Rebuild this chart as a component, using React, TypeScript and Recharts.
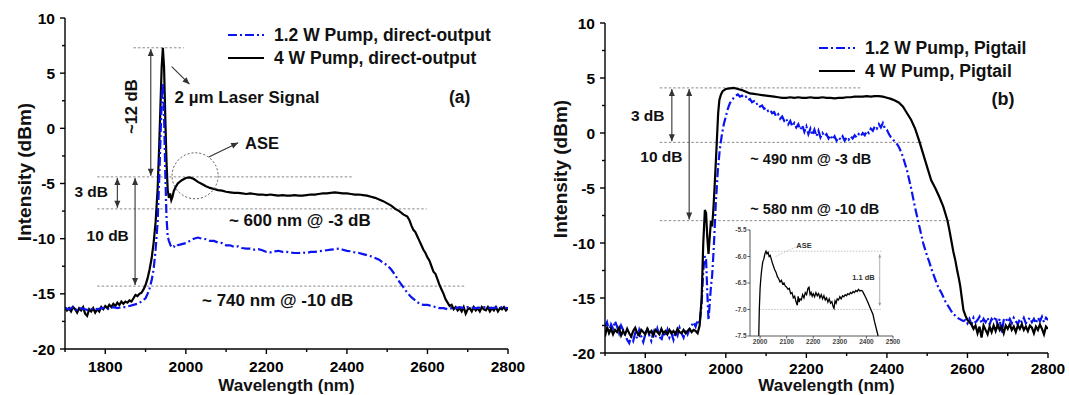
import React from 'react';
import { LineChart, Line, XAxis, YAxis, ReferenceLine, ReferenceDot, Legend } from 'recharts';

const FONT = "'Liberation Sans', Arial, Helvetica, sans-serif";
const BLUE = '#0a14f0';
const DASH = '9 3 2 3';

type Pt = [number, number];

// ---------- Panel (a): direct output ----------
const aBlack4W: Pt[] = [
  [1700, -16.2], [1705, -16.5], [1710, -16.3], [1715, -16.6], [1720, -16.2], [1725, -16.4], [1730, -16.7], [1735, -16.3],
  [1740, -16.5], [1745, -16.2], [1750, -16.8], [1755, -17.0], [1760, -16.4], [1765, -16.6], [1770, -16.3], [1775, -16.7],
  [1780, -16.4], [1785, -16.6], [1790, -16.2], [1795, -16.4], [1800, -16.1], [1805, -16.3], [1810, -16.0], [1815, -16.2],
  [1820, -15.9], [1825, -16.1], [1830, -15.8], [1835, -16.0], [1840, -15.7], [1845, -15.9], [1850, -15.7], [1855, -15.8],
  [1860, -15.6], [1865, -15.7], [1870, -15.4], [1875, -15.1], [1880, -15.2], [1885, -15.0], [1890, -14.9], [1895, -14.6],
  [1900, -14.2], [1905, -13.6], [1910, -12.8], [1915, -11.8], [1920, -10.4], [1925, -8.5], [1930, -5.5], [1934, -1.5],
  [1937, 2.0], [1940, 5.5], [1943, 7.3], [1946, 5.5], [1949, 1.0], [1952, -3.0], [1955, -5.6], [1958, -6.3], [1961, -5.9],
  [1964, -6.5], [1967, -6.2], [1970, -5.7], [1975, -5.3], [1980, -5.0], [1990, -4.7], [2000, -4.5], [2010, -4.45],
  [2020, -4.6], [2030, -4.85], [2040, -5.05], [2050, -5.25], [2060, -5.4], [2070, -5.5], [2080, -5.6], [2090, -5.65],
  [2100, -5.75], [2110, -5.8], [2120, -5.85], [2130, -5.85], [2140, -5.9], [2150, -5.95], [2160, -5.9], [2170, -5.95],
  [2180, -6.0], [2190, -6.0], [2200, -6.05], [2210, -6.0], [2220, -6.05], [2230, -6.1], [2240, -6.05], [2250, -6.1],
  [2260, -6.1], [2270, -6.05], [2280, -6.1], [2290, -6.1], [2300, -6.05], [2310, -6.0], [2320, -6.0], [2330, -5.95],
  [2340, -5.9], [2350, -5.9], [2360, -5.85], [2370, -5.8], [2380, -5.85], [2390, -5.9], [2400, -5.9], [2410, -5.95],
  [2420, -6.0], [2430, -6.0], [2440, -6.05], [2450, -6.1], [2460, -6.2], [2470, -6.3], [2480, -6.45], [2490, -6.6],
  [2500, -6.8], [2510, -7.0], [2520, -7.3], [2530, -7.5], [2540, -7.8], [2550, -8.0], [2555, -8.3], [2560, -8.8],
  [2565, -9.2], [2570, -9.4], [2575, -9.8], [2580, -10.2], [2585, -10.6], [2590, -11.0], [2595, -11.3], [2600, -11.7],
  [2605, -12.0], [2610, -12.5], [2615, -13.0], [2620, -13.2], [2625, -13.7], [2630, -14.2], [2635, -14.6], [2640, -15.0],
  [2645, -15.5], [2650, -15.8], [2655, -16.1], [2660, -16.0], [2665, -16.4], [2670, -16.2], [2675, -16.5], [2680, -16.3],
  [2685, -16.6], [2690, -16.2], [2695, -16.8], [2700, -16.4], [2705, -16.3], [2710, -16.6], [2715, -16.2], [2720, -16.5],
  [2725, -16.3], [2730, -16.6], [2735, -16.2], [2740, -16.4], [2745, -16.5], [2750, -16.2], [2755, -16.6], [2760, -16.3],
  [2765, -16.5], [2770, -16.2], [2775, -16.6], [2780, -16.3], [2785, -16.4], [2790, -16.2], [2795, -16.5], [2800, -16.3],
];

const aBlue12W: Pt[] = [
  [1700, -16.3], [1710, -16.4], [1720, -16.2], [1730, -16.5], [1740, -16.3], [1750, -16.4], [1760, -16.5], [1770, -16.3],
  [1780, -16.4], [1790, -16.3], [1800, -16.3], [1810, -16.4], [1820, -16.2], [1830, -16.3], [1840, -16.2], [1850, -16.2],
  [1860, -16.1], [1870, -16.0], [1880, -15.9], [1890, -15.7], [1900, -15.4], [1905, -15.0], [1910, -14.5], [1915, -13.8],
  [1920, -12.8], [1925, -11.0], [1930, -8.5], [1934, -4.5], [1937, -1.0], [1940, 2.5], [1943, 4.1], [1946, 1.0],
  [1949, -4.0], [1952, -8.0], [1955, -9.8], [1958, -10.2], [1962, -10.6], [1966, -10.8], [1970, -10.7], [1975, -10.8],
  [1980, -10.6], [1990, -10.5], [2000, -10.4], [2010, -10.2], [2020, -10.0], [2030, -9.9], [2040, -10.0], [2050, -10.05],
  [2060, -10.2], [2070, -10.2], [2080, -10.35], [2090, -10.4], [2100, -10.6], [2110, -10.6], [2120, -10.75], [2130, -10.7],
  [2140, -10.85], [2150, -10.9], [2160, -10.9], [2170, -11.0], [2180, -10.95], [2190, -11.05], [2200, -11.2], [2210, -11.25],
  [2220, -11.15], [2230, -11.1], [2240, -11.2], [2250, -11.2], [2260, -11.25], [2270, -11.3], [2280, -11.3], [2290, -11.25],
  [2300, -11.3], [2310, -11.2], [2320, -11.2], [2330, -11.15], [2340, -11.1], [2350, -11.05], [2360, -11.0], [2370, -10.95],
  [2380, -10.9], [2390, -11.0], [2400, -11.1], [2410, -11.15], [2420, -11.25], [2430, -11.3], [2440, -11.4], [2450, -11.5],
  [2460, -11.6], [2470, -11.75], [2480, -11.9], [2490, -12.2], [2500, -12.4], [2510, -12.8], [2520, -13.3], [2530, -13.9],
  [2540, -14.4], [2550, -14.9], [2560, -15.3], [2570, -15.6], [2580, -15.9], [2590, -16.0], [2600, -16.0], [2610, -16.1],
  [2620, -16.2], [2630, -16.3], [2640, -16.3], [2650, -16.4], [2660, -16.3], [2670, -16.3], [2680, -16.2], [2690, -16.3],
  [2700, -16.2], [2720, -16.3], [2740, -16.2], [2760, -16.3], [2780, -16.2], [2800, -16.3],
];

// ---------- Panel (b): pigtail ----------
const bBlack4W: Pt[] = [
  [1700, -18.5], [1705, -17.6], [1710, -18.2], [1715, -17.8], [1720, -18.3], [1725, -17.9], [1730, -18.1], [1735, -17.7],
  [1740, -18.4], [1745, -18.0], [1750, -18.3], [1755, -17.8], [1760, -18.2], [1765, -18.5], [1770, -18.0], [1775, -17.7],
  [1780, -18.2], [1785, -18.4], [1790, -17.9], [1795, -18.1], [1800, -18.3], [1805, -17.8], [1810, -18.2], [1815, -18.0],
  [1820, -18.4], [1825, -17.9], [1830, -18.1], [1835, -18.3], [1840, -17.8], [1845, -18.2], [1850, -18.0], [1855, -18.3],
  [1860, -17.9], [1865, -18.2], [1870, -18.0], [1875, -18.3], [1880, -17.8], [1885, -18.1], [1890, -18.2], [1895, -17.9],
  [1900, -18.2], [1905, -18.0], [1910, -17.8], [1915, -18.1], [1920, -17.9], [1925, -18.0], [1930, -18.2], [1935, -17.5],
  [1940, -15.0], [1944, -10.0], [1948, -7.0], [1951, -7.3], [1954, -9.5], [1957, -11.0], [1960, -9.5], [1963, -8.0],
  [1966, -8.5], [1969, -7.0], [1972, -5.0], [1975, -2.8], [1978, -0.5], [1981, 1.8], [1984, 3.0], [1988, 3.5],
  [1992, 3.8], [1996, 3.9], [2000, 4.0], [2010, 4.05], [2020, 4.1], [2030, 4.0], [2040, 3.9], [2050, 3.75], [2060, 3.6],
  [2070, 3.55], [2080, 3.5], [2090, 3.45], [2100, 3.4], [2110, 3.35], [2120, 3.3], [2130, 3.25], [2140, 3.2], [2150, 3.2],
  [2160, 3.25], [2170, 3.2], [2180, 3.25], [2190, 3.2], [2200, 3.2], [2210, 3.25], [2220, 3.2], [2230, 3.2], [2240, 3.25],
  [2250, 3.2], [2260, 3.2], [2270, 3.15], [2280, 3.2], [2290, 3.2], [2300, 3.25], [2310, 3.25], [2320, 3.3], [2330, 3.3],
  [2340, 3.3], [2350, 3.35], [2360, 3.3], [2370, 3.35], [2380, 3.35], [2390, 3.3], [2400, 3.2], [2410, 3.1], [2420, 2.95],
  [2430, 2.75], [2440, 2.4], [2450, 1.8], [2460, 1.2], [2470, 0.4], [2480, -0.7], [2490, -1.9], [2500, -3.1], [2510, -4.3],
  [2520, -5.0], [2530, -5.8], [2540, -6.7], [2550, -7.9], [2555, -8.8], [2560, -9.8], [2565, -10.8], [2570, -11.6],
  [2575, -12.6], [2578, -13.1], [2582, -13.9], [2586, -15.0], [2590, -16.1], [2595, -16.6], [2600, -17.0], [2605, -17.2],
  [2610, -17.4], [2615, -17.8], [2620, -17.5], [2625, -18.2], [2630, -17.6], [2635, -18.6], [2640, -17.5], [2645, -17.9],
  [2650, -18.3], [2655, -17.6], [2660, -18.1], [2665, -17.5], [2670, -18.0], [2675, -17.4], [2680, -17.9], [2685, -17.6],
  [2690, -18.2], [2695, -17.5], [2700, -17.8], [2705, -17.4], [2710, -17.9], [2715, -17.6], [2720, -18.1], [2725, -17.5],
  [2730, -17.8], [2735, -17.4], [2740, -17.9], [2745, -17.6], [2750, -18.0], [2755, -17.5], [2760, -17.7], [2765, -18.2],
  [2770, -17.6], [2775, -17.9], [2780, -17.4], [2785, -17.8], [2790, -18.3], [2795, -17.6], [2800, -17.8],
];

const bBlue12W: Pt[] = [
  [1700, -17.6], [1705, -17.2], [1710, -18.0], [1715, -17.4], [1720, -17.8], [1725, -17.1], [1730, -17.6], [1735, -18.2],
  [1740, -17.5], [1745, -17.9], [1750, -18.4], [1755, -18.8], [1760, -19.1], [1765, -18.5], [1770, -18.9], [1775, -18.2],
  [1780, -18.7], [1785, -17.9], [1790, -18.5], [1795, -19.0], [1800, -18.3], [1805, -17.7], [1810, -18.4], [1815, -18.9],
  [1820, -18.1], [1825, -18.6], [1830, -17.8], [1835, -18.4], [1840, -18.9], [1845, -18.0], [1850, -18.5], [1855, -17.9],
  [1860, -18.6], [1865, -18.2], [1870, -18.8], [1875, -18.0], [1880, -18.4], [1885, -17.7], [1890, -18.2], [1895, -18.6],
  [1900, -17.9], [1905, -18.3], [1910, -17.8], [1915, -17.5], [1920, -17.2], [1925, -17.6], [1930, -17.0], [1935, -17.3],
  [1940, -15.5], [1944, -12.5], [1948, -11.2], [1951, -11.5], [1954, -14.5], [1957, -17.0], [1960, -15.5], [1963, -14.0],
  [1966, -13.0], [1970, -10.5], [1975, -6.5], [1980, -3.5], [1985, -1.5], [1990, -0.2], [1995, 0.8], [2000, 1.5],
  [2005, 2.2], [2010, 2.7], [2015, 3.0], [2020, 3.2], [2025, 3.4], [2030, 3.5], [2035, 3.3], [2040, 3.4], [2045, 3.2],
  [2050, 3.3], [2055, 3.0], [2060, 3.1], [2065, 2.8], [2070, 2.9], [2075, 2.6], [2080, 2.7], [2085, 2.4], [2090, 2.5],
  [2095, 2.2], [2100, 2.3], [2105, 2.0], [2110, 2.1], [2115, 1.8], [2120, 1.9], [2125, 1.5], [2130, 1.7], [2135, 1.3],
  [2140, 1.5], [2145, 1.1], [2150, 1.3], [2155, 0.8], [2160, 1.1], [2165, 0.6], [2170, 0.9], [2175, 0.5], [2180, 0.8],
  [2185, 0.3], [2190, 0.7], [2195, 0.1], [2200, 0.6], [2205, -0.1], [2210, 0.4], [2215, -0.2], [2220, 0.3], [2225, -0.3],
  [2230, 0.2], [2235, -0.4], [2240, 0.0], [2245, -0.3], [2250, -0.1], [2255, -0.5], [2260, -0.2], [2265, -0.6],
  [2270, -0.3], [2275, -0.7], [2280, -0.4], [2285, -0.6], [2290, -0.3], [2295, -0.7], [2300, -0.4], [2305, -0.6],
  [2310, -0.3], [2315, -0.5], [2320, -0.2], [2325, -0.4], [2330, -0.1], [2335, -0.3], [2340, 0.0], [2345, -0.2],
  [2350, 0.2], [2355, 0.0], [2360, 0.4], [2365, 0.2], [2370, 0.6], [2375, 0.4], [2380, 0.8], [2385, 0.5], [2390, 0.9],
  [2395, 0.4], [2400, 0.3], [2405, -0.1], [2410, -0.4], [2415, -0.6], [2420, -0.8], [2425, -1.0], [2430, -1.3],
  [2435, -1.7], [2440, -2.2], [2445, -2.8], [2450, -3.4], [2455, -4.2], [2460, -5.0], [2465, -5.9], [2470, -6.8],
  [2475, -7.6], [2480, -8.4], [2485, -9.2], [2490, -10.0], [2495, -10.6], [2500, -11.2], [2505, -11.7], [2510, -12.3],
  [2515, -12.8], [2520, -13.3], [2525, -13.8], [2530, -14.2], [2535, -14.5], [2540, -14.9], [2545, -15.3], [2550, -15.6],
  [2555, -15.9], [2560, -16.2], [2565, -16.5], [2570, -16.6], [2575, -16.8], [2580, -16.9], [2585, -17.0], [2590, -17.1],
  [2595, -17.0], [2600, -17.3], [2605, -16.9], [2610, -17.4], [2615, -16.8], [2620, -17.2], [2625, -17.0], [2630, -16.7],
  [2635, -17.3], [2640, -16.9], [2645, -17.2], [2650, -16.8], [2655, -17.4], [2660, -16.9], [2665, -17.1], [2670, -16.7],
  [2675, -17.5], [2680, -16.9], [2685, -18.2], [2690, -17.0], [2695, -16.8], [2700, -17.2], [2705, -16.9], [2710, -17.3],
  [2715, -16.8], [2720, -17.1], [2725, -17.4], [2730, -16.9], [2735, -17.2], [2740, -16.8], [2745, -17.3], [2750, -17.0],
  [2755, -16.8], [2760, -17.2], [2765, -16.9], [2770, -17.3], [2775, -16.8], [2780, -17.1], [2785, -16.7], [2790, -17.2],
  [2795, -16.8], [2800, -17.0],
];

// ---------- Inset of panel (b) ----------
const insetASE: Pt[] = [
  [1995, -7.5], [1997, -7.0], [2000, -6.6], [2003, -6.4], [2006, -6.25], [2010, -6.1], [2014, -6.05], [2018, -5.95],
  [2022, -5.9], [2026, -5.95], [2030, -5.92], [2034, -6.0], [2038, -5.98], [2042, -6.05], [2046, -6.12], [2050, -6.18],
  [2055, -6.25], [2060, -6.3], [2065, -6.38], [2070, -6.42], [2075, -6.48], [2080, -6.45], [2085, -6.52], [2090, -6.5],
  [2095, -6.56], [2100, -6.58], [2105, -6.62], [2110, -6.6], [2115, -6.7], [2120, -6.68], [2125, -6.78], [2130, -6.75],
  [2135, -6.85], [2140, -6.92], [2143, -6.75], [2147, -6.86], [2150, -6.8], [2155, -6.82], [2160, -6.72], [2165, -6.78],
  [2170, -6.68], [2175, -6.72], [2180, -6.6], [2184, -6.58], [2188, -6.72], [2192, -6.68], [2196, -6.75], [2200, -6.7],
  [2205, -6.76], [2210, -6.68], [2215, -6.74], [2220, -6.7], [2225, -6.78], [2230, -6.72], [2235, -6.8], [2240, -6.74],
  [2245, -6.82], [2250, -6.78], [2255, -6.86], [2260, -6.8], [2265, -6.88], [2270, -6.85], [2275, -6.95], [2278, -6.98],
  [2282, -6.84], [2286, -6.88], [2290, -6.8], [2295, -6.82], [2300, -6.76], [2305, -6.8], [2310, -6.74], [2315, -6.76],
  [2320, -6.72], [2325, -6.74], [2330, -6.7], [2335, -6.72], [2340, -6.68], [2345, -6.7], [2350, -6.66], [2355, -6.68],
  [2360, -6.64], [2365, -6.66], [2370, -6.62], [2375, -6.65], [2380, -6.64], [2385, -6.65], [2390, -6.7], [2395, -6.75],
  [2400, -6.8], [2405, -6.86], [2410, -6.92], [2415, -6.98], [2420, -7.04], [2425, -7.1], [2430, -7.22], [2435, -7.32],
  [2440, -7.42], [2444, -7.5],
];

// ---------- Ticks & labels ----------
const mainXTicks = [1700, 1800, 1900, 2000, 2100, 2200, 2300, 2400, 2500, 2600, 2700, 2800];
const mainXLabelled = [1800, 2000, 2200, 2400, 2600, 2800];
const mainYTicks = [-20, -17.5, -15, -12.5, -10, -7.5, -5, -2.5, 0, 2.5, 5, 7.5, 10];
const mainYLabelled = [-20, -15, -10, -5, 0, 5, 10];
const insetXTicks = [2000, 2100, 2200, 2300, 2400, 2500];
const insetYTicks = [-7.5, -7.0, -6.5, -6.0, -5.5];

const legendA = ['1.2 W Pump, direct-output', '4 W Pump, direct-output'];
const legendB = ['1.2 W Pump, Pigtail', '4 W Pump, Pigtail'];
const xTitle = 'Wavelength (nm)';
const yTitle = 'Intensity (dBm)';

// ---------- Annotations (data units) ----------
type Seg = { x1: number; y1: number; x2: number; y2: number; heads?: 'both' | 'end' | 'none' };
type Note = { x: number; y: number; text: string; size: number; anchor?: 'start' | 'middle' | 'end'; rotate?: boolean };

const aGuides: Seg[] = [
  { x1: 1870, y1: 7.3, x2: 1995, y2: 7.3 },
  { x1: 1780, y1: -4.4, x2: 2415, y2: -4.4 },
  { x1: 1780, y1: -7.3, x2: 2598, y2: -7.3 },
  { x1: 1780, y1: -14.3, x2: 2692, y2: -14.3 },
];
const aArrows: Seg[] = [
  { x1: 1913, y1: 7.2, x2: 1913, y2: -4.3, heads: 'both' },
  { x1: 1830, y1: -4.5, x2: 1830, y2: -7.2, heads: 'both' },
  { x1: 1874, y1: -4.5, x2: 1874, y2: -14.2, heads: 'both' },
  { x1: 1965, y1: 5.6, x2: 2009, y2: 4.0, heads: 'end' },
  { x1: 2057, y1: -2.6, x2: 2130, y2: -1.3, heads: 'end' },
];
const aNotes: Note[] = [
  { x: 1972, y: 2.87, text: '2 µm Laser Signal', size: 17, anchor: 'start' },
  { x: 2147, y: -1.36, text: 'ASE', size: 16.5, anchor: 'start' },
  { x: 2283, y: -8.31, text: '~ 600 nm @ -3 dB', size: 17 },
  { x: 2228, y: -15.57, text: '~ 740 nm @ -10 dB', size: 17 },
  { x: 1765, y: -5.74, text: '3 dB', size: 15.5 },
  { x: 1806, y: -9.67, text: '10 dB', size: 15.5 },
  { x: 1865, y: 1.96, text: '~12 dB', size: 16.5, rotate: true },
  { x: 2680, y: 2.87, text: '(a)', size: 17.5 },
];
const aCircles = [{ x: 2023, y: -4.3 }];

const bGuides: Seg[] = [
  { x1: 1836, y1: 4.1, x2: 2339, y2: 4.1 },
  { x1: 1836, y1: -0.85, x2: 2488, y2: -0.85 },
  { x1: 1836, y1: -7.97, x2: 2560, y2: -7.97 },
];
const bArrows: Seg[] = [
  { x1: 1866, y1: 4.0, x2: 1866, y2: -0.75, heads: 'both' },
  { x1: 1909, y1: 4.0, x2: 1909, y2: -7.87, heads: 'both' },
];
const bNotes: Note[] = [
  { x: 1806, y: 1.6, text: '3 dB', size: 15.5 },
  { x: 1840, y: -2.12, text: '10 dB', size: 15.5 },
  { x: 2211, y: -2.33, text: '~ 490 nm @ -3 dB', size: 14.5 },
  { x: 2221, y: -6.88, text: '~ 580 nm @ -10 dB', size: 14.5 },
  { x: 2688, y: 3.12, text: '(b)', size: 18 },
];

const iGuides: Seg[] = [
  { x1: 2022, y1: -5.9, x2: 2457, y2: -5.9 },
  { x1: 1997, y1: -7.0, x2: 2457, y2: -7.0 },
  { x1: 2058, y1: -6.0, x2: 2134, y2: -5.82 },
];
const iArrows: Seg[] = [{ x1: 2450, y1: -5.96, x2: 2450, y2: -6.93, heads: 'both' }];
const iNotes: Note[] = [
  { x: 2165, y: -5.79, text: 'ASE', size: 7.5 },
  { x: 2431, y: -6.39, text: '1.1 dB', size: 7.5, anchor: 'end' },
];

// ---------- helpers ----------
const toRows = (pts: Pt[]) => pts.map(([x, y]) => ({ x, y }));

type TickOpts = {
  side: 'bottom' | 'left' | 'top' | 'right';
  labelled: number[];
  showLabel: boolean;
  fontSize: number;
  gap: number;
  major: number;
  minor: number;
  fmt?: (v: number) => string;
  color?: string;
  width?: number;
};

function makeTick(o: TickOpts) {
  return (p: any) => {
    const { x, y, payload } = p;
    const v = payload.value as number;
    const isMajor = o.labelled.includes(v);
    const L = isMajor ? o.major : o.minor;
    const c = o.color ?? '#000';
    const txt = o.fmt ? o.fmt(v) : String(v);
    let line: React.ReactNode = null;
    let label: React.ReactNode = null;
    const tProps = { fontFamily: FONT, fontWeight: 700, fontSize: o.fontSize, fill: c };
    if (o.side === 'bottom') {
      line = <line x1={x} y1={y} x2={x} y2={y + L} stroke={c} strokeWidth={o.width ?? 1.3} />;
      if (o.showLabel && isMajor) label = <text x={x} y={y + o.gap} textAnchor="middle" {...tProps}>{txt}</text>;
    } else if (o.side === 'left') {
      line = <line x1={x} y1={y} x2={x - L} y2={y} stroke={c} strokeWidth={o.width ?? 1.3} />;
      if (o.showLabel && isMajor)
        label = <text x={x - o.gap} y={y + o.fontSize * 0.36} textAnchor="end" {...tProps}>{txt}</text>;
    } else if (o.side === 'top') {
      line = <line x1={x} y1={y} x2={x} y2={y + L} stroke={c} strokeWidth={o.width ?? 1.3} />;
    } else {
      line = <line x1={x} y1={y} x2={x - L} y2={y} stroke={c} strokeWidth={o.width ?? 1.3} />;
    }
    return (
      <g>
        {line}
        {label}
      </g>
    );
  };
}

const arrowShape = (heads: 'both' | 'end' | 'none', color: string, w: number, dash?: string, hl = 7, hw = 3) =>
  (p: any) => {
    const { x1, y1, x2, y2 } = p;
    if ([x1, y1, x2, y2].some((v) => typeof v !== 'number' || isNaN(v))) return <g />;
    const a = Math.atan2(y2 - y1, x2 - x1);
    const head = (tx: number, ty: number, ang: number) => {
      const bx = tx - hl * Math.cos(ang);
      const by = ty - hl * Math.sin(ang);
      const px = -Math.sin(ang) * hw;
      const py = Math.cos(ang) * hw;
      return <polygon points={`${tx},${ty} ${bx + px},${by + py} ${bx - px},${by - py}`} fill={color} />;
    };
    return (
      <g>
        <line x1={x1} y1={y1} x2={x2} y2={y2} stroke={color} strokeWidth={w} strokeDasharray={dash} />
        {(heads === 'end' || heads === 'both') && head(x2, y2, a)}
        {heads === 'both' && head(x1, y1, a + Math.PI)}
      </g>
    );
  };

const noteShape = (n: Note, color: string) => (p: any) => (
  <text
    x={p.cx}
    y={p.cy}
    dy={n.size * 0.36}
    textAnchor={n.anchor ?? 'middle'}
    fontFamily={FONT}
    fontWeight={700}
    fontSize={n.size}
    fill={color}
    transform={n.rotate ? `rotate(-90 ${p.cx} ${p.cy})` : undefined}
  >
    {n.text}
  </text>
);

const legendContent = (labels: string[]) => () => (
  <svg width={340} height={52} style={{ display: 'block', overflow: 'visible' }}>
    <line x1={5} y1={15} x2={41} y2={15} stroke={BLUE} strokeWidth={2.2} strokeDasharray={DASH} />
    <text x={51} y={15} dy={6.2} fontFamily={FONT} fontWeight={700} fontSize={17.5} fill="#111">{labels[0]}</text>
    <line x1={5} y1={38} x2={41} y2={38} stroke="#000" strokeWidth={2.2} />
    <text x={51} y={38} dy={6.2} fontFamily={FONT} fontWeight={700} fontSize={17.5} fill="#111">{labels[1]}</text>
  </svg>
);

type Series = { data: Pt[]; color: string; dash?: string; width: number; name: string };

type PanelProps = {
  width: number;
  height: number;
  margin: { top: number; right: number; left: number; bottom: number };
  yAxisWidth: number;
  xAxisHeight: number;
  xDomain: [number, number];
  yDomain: [number, number];
  xTicks: number[];
  yTicks: number[];
  xLabelled: number[];
  yLabelled: number[];
  series: Series[];
  guides: Seg[];
  arrows: Seg[];
  notes: Note[];
  circles?: { x: number; y: number }[];
  legend?: { labels: string[]; left: number; top: number };
  titles?: { xBase: number; yX: number; yY: number; tickGap: number };
  small?: boolean;
};

function Panel(P: PanelProps) {
  const s = !!P.small;
  const axisColor = s ? '#444' : '#000';
  const axisW = s ? 0.9 : 1.4;
  const fs = s ? 6.5 : 15.5;
  const majorLen = s ? 2.5 : 5;
  const minorLen = s ? 1.5 : 3;
  const fmtY = s ? (v: number) => v.toFixed(1) : undefined;
  const noteColor = s ? '#333' : '#111';
  const guideColor = s ? '#aaa' : '#8a8a8a';
  const arrowColor = s ? '#999' : '#333';
  const xGap = s ? 8 : P.titles ? P.titles.tickGap : 23;
  return (
    <LineChart width={P.width} height={P.height} margin={P.margin}>
      <XAxis
        xAxisId={0}
        dataKey="x"
        type="number"
        domain={P.xDomain}
        allowDataOverflow
        ticks={P.xTicks}
        interval={0}
        tickSize={0}
        tickMargin={0}
        tickLine={false}
        height={P.xAxisHeight}
        axisLine={{ stroke: axisColor, strokeWidth: axisW }}
        tick={makeTick({ side: 'bottom', labelled: P.xLabelled, showLabel: true, fontSize: fs, gap: xGap, major: majorLen, minor: minorLen, color: axisColor, width: axisW })}
        label={
          P.titles
            ? (lp: any) => {
                const vb = lp.viewBox || { x: 0, y: 0, width: 0 };
                return (
                  <text x={vb.x + vb.width / 2} y={vb.y + P.titles!.xBase} textAnchor="middle" fontFamily={FONT} fontWeight={700} fontSize={17} fill="#111">
                    {xTitle}
                  </text>
                );
              }
            : undefined
        }
      />
      <XAxis
        xAxisId="top"
        orientation="top"
        dataKey="x"
        type="number"
        domain={P.xDomain}
        allowDataOverflow
        ticks={P.xTicks}
        interval={0}
        tickSize={0}
        tickMargin={0}
        tickLine={false}
        height={0}
        axisLine={{ stroke: axisColor, strokeWidth: axisW }}
        tick={makeTick({ side: 'top', labelled: P.xLabelled, showLabel: false, fontSize: fs, gap: 0, major: majorLen, minor: minorLen, color: axisColor, width: axisW })}
      />
      <YAxis
        yAxisId={0}
        type="number"
        domain={P.yDomain}
        allowDataOverflow
        ticks={P.yTicks}
        interval={0}
        tickSize={0}
        tickMargin={0}
        tickLine={false}
        width={P.yAxisWidth}
        axisLine={{ stroke: axisColor, strokeWidth: axisW }}
        tick={makeTick({ side: 'left', labelled: P.yLabelled, showLabel: true, fontSize: fs, gap: s ? 3.5 : 10, major: majorLen, minor: minorLen, fmt: fmtY, color: axisColor, width: axisW })}
        label={
          P.titles
            ? () => (
                <text
                  x={P.titles!.yX}
                  y={P.titles!.yY}
                  textAnchor="middle"
                  dy={6.5}
                  transform={`rotate(-90 ${P.titles!.yX} ${P.titles!.yY})`}
                  fontFamily={FONT}
                  fontWeight={700}
                  fontSize={19}
                  fill="#111"
                >
                  {yTitle}
                </text>
              )
            : undefined
        }
      />
      <YAxis
        yAxisId="right"
        orientation="right"
        type="number"
        domain={P.yDomain}
        allowDataOverflow
        ticks={P.yTicks}
        interval={0}
        tickSize={0}
        tickMargin={0}
        tickLine={false}
        width={0}
        axisLine={{ stroke: axisColor, strokeWidth: axisW }}
        tick={makeTick({ side: 'right', labelled: P.yLabelled, showLabel: false, fontSize: fs, gap: 0, major: majorLen, minor: minorLen, color: axisColor, width: axisW })}
      />
      {P.guides.map((g, i) => (
        <ReferenceLine
          key={'g' + i}
          segment={[{ x: g.x1, y: g.y1 }, { x: g.x2, y: g.y2 }]}
          ifOverflow="visible"
          shape={arrowShape('none', guideColor, s ? 0.7 : 1, s ? '1.5 1.5' : '2.5 2')}
        />
      ))}
      {P.series.map((sr) => (
        <Line
          key={sr.name}
          name={sr.name}
          data={toRows(sr.data)}
          dataKey="y"
          type="linear"
          stroke={sr.color}
          strokeWidth={sr.width}
          strokeDasharray={sr.dash}
          dot={false}
          activeDot={false}
          isAnimationActive={false}
        />
      ))}
      {P.arrows.map((g, i) => (
        <ReferenceLine
          key={'a' + i}
          segment={[{ x: g.x1, y: g.y1 }, { x: g.x2, y: g.y2 }]}
          ifOverflow="visible"
          shape={arrowShape(g.heads ?? 'none', arrowColor, s ? 0.8 : 1.1, undefined, s ? 3 : 7, s ? 1.5 : 3)}
        />
      ))}
      {(P.circles ?? []).map((c, i) => (
        <ReferenceDot key={'c' + i} x={c.x} y={c.y} r={23} fill="none" stroke="#555" strokeWidth={1} strokeDasharray="2 2" ifOverflow="visible" />
      ))}
      {P.notes.map((n, i) => (
        <ReferenceDot key={'n' + i} x={n.x} y={n.y} r={1} ifOverflow="visible" shape={noteShape(n, noteColor)} />
      ))}
      {P.legend && (
        <Legend
          layout="vertical"
          align="center"
          verticalAlign="middle"
          content={legendContent(P.legend.labels)}
          wrapperStyle={{ left: P.legend.left, top: P.legend.top, width: 340, height: 52 }}
        />
      )}
    </LineChart>
  );
}

export default function App() {
  return (
    <div style={{ position: 'fixed', left: 0, top: 0, width: 1069, height: 395, background: '#fff', overflow: 'hidden' }}>
      <div style={{ position: 'absolute', left: 0, top: 0 }}>
        <Panel
          width={540}
          height={395}
          margin={{ top: 18, right: 32, left: 0, bottom: 0 }}
          yAxisWidth={65}
          xAxisHeight={46}
          xDomain={[1700, 2800]}
          yDomain={[-20, 10]}
          xTicks={mainXTicks}
          yTicks={mainYTicks}
          xLabelled={mainXLabelled}
          yLabelled={mainYLabelled}
          series={[
            { data: aBlack4W, color: '#000', width: 2.2, name: legendA[1] },
            { data: aBlue12W, color: BLUE, width: 2.2, dash: DASH, name: legendA[0] },
          ]}
          guides={aGuides}
          arrows={aArrows}
          notes={aNotes}
          circles={aCircles}
          legend={{ labels: legendA, left: 223, top: 20 }}
          titles={{ xBase: 42, yX: 24, yY: 172, tickGap: 23 }}
        />
      </div>
      <div style={{ position: 'absolute', left: 530, top: 0 }}>
        <Panel
          width={539}
          height={395}
          margin={{ top: 23, right: 21, left: 0, bottom: 0 }}
          yAxisWidth={75}
          xAxisHeight={42}
          xDomain={[1700, 2800]}
          yDomain={[-20, 10]}
          xTicks={mainXTicks}
          yTicks={mainYTicks}
          xLabelled={mainXLabelled}
          yLabelled={mainYLabelled}
          series={[
            { data: bBlue12W, color: BLUE, width: 2.2, dash: DASH, name: legendB[0] },
            { data: bBlack4W, color: '#000', width: 2.2, name: legendB[1] },
          ]}
          guides={bGuides}
          arrows={bArrows}
          notes={bNotes}
          legend={{ labels: legendB, left: 284, top: 33 }}
          titles={{ xBase: 38, yX: 30, yY: 169, tickGap: 21 }}
        />
      </div>
      <div style={{ position: 'absolute', left: 725, top: 225, background: '#fff' }}>
        <Panel
          small
          width={180}
          height={125}
          margin={{ top: 5, right: 12, left: 0, bottom: 0 }}
          yAxisWidth={25}
          xAxisHeight={14}
          xDomain={[1962, 2500]}
          yDomain={[-7.5, -5.5]}
          xTicks={insetXTicks}
          yTicks={insetYTicks}
          xLabelled={insetXTicks}
          yLabelled={insetYTicks}
          series={[{ data: insetASE, color: '#000', width: 1.3, name: 'ASE inset' }]}
          guides={iGuides}
          arrows={iArrows}
          notes={iNotes}
        />
      </div>
    </div>
  );
}
